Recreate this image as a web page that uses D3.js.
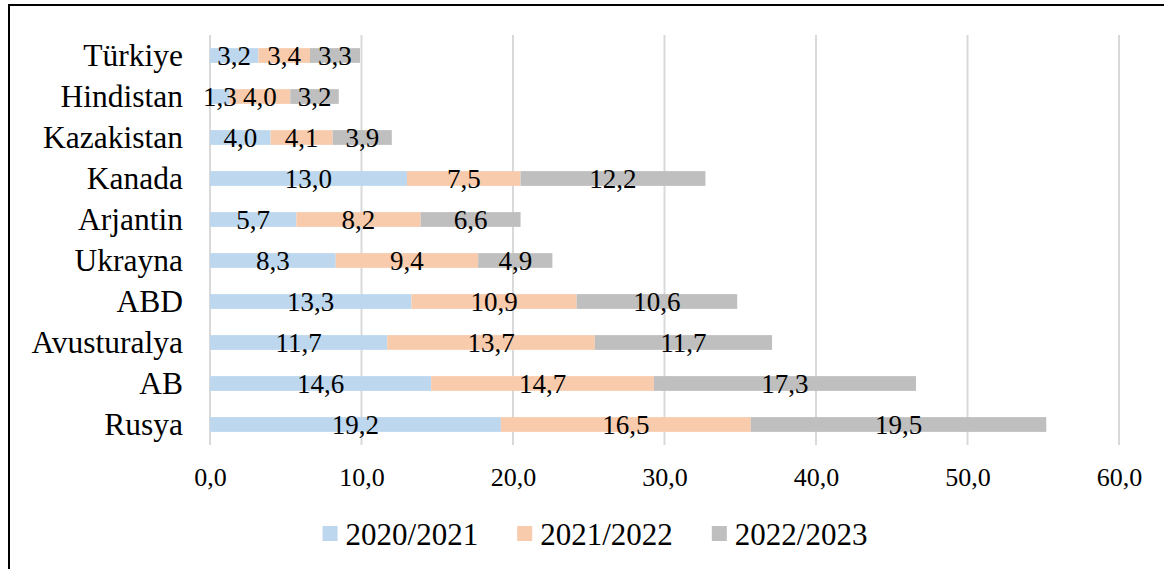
<!DOCTYPE html>
<html>
<head>
<meta charset="utf-8">
<script src="https://cdn.jsdelivr.net/npm/d3@7"></script>
<style>
  body { margin: 0; background: #fff; }
  svg { display: block; font-family: "Liberation Serif", "Times New Roman", serif; }
</style>
</head>
<body>
<svg id="chart" width="1164" height="569"></svg>
<script>
const categories = ["Türkiye", "Hindistan", "Kazakistan", "Kanada", "Arjantin", "Ukrayna", "ABD", "Avusturalya", "AB", "Rusya"];
const seriesNames = ["2020/2021", "2021/2022", "2022/2023"];
const values2020 = [3.2, 1.3, 4.0, 13.0, 5.7, 8.3, 13.3, 11.7, 14.6, 19.2];
const values2021 = [3.4, 4.0, 4.1, 7.5, 8.2, 9.4, 10.9, 13.7, 14.7, 16.5];
const values2022 = [3.3, 3.2, 3.9, 12.2, 6.6, 4.9, 10.6, 11.7, 17.3, 19.5];
const xTicks = [0, 10, 20, 30, 40, 50, 60];
const colors = ["#BDD7EE", "#F8CBAD", "#BFBFBF"];

const rows = categories.map((c, i) => ({
  name: c,
  "2020/2021": values2020[i],
  "2021/2022": values2021[i],
  "2022/2023": values2022[i],
}));

const svg = d3.select("#chart");
const margin = { top: 35, left: 210, right: 45, bottom: 124 };
const WIDTH = 1164;
const HEIGHT = 569;

// chart border (right and bottom edges fall outside the picture)
svg.append("rect")
  .attr("x", 9).attr("y", 5)
  .attr("width", 1180).attr("height", 600)
  .attr("fill", "none")
  .attr("stroke", "#000")
  .attr("stroke-width", 2);

const x = d3.scaleLinear().domain([0, 60]).range([margin.left, WIDTH - margin.right]);
const y = d3.scaleBand().domain(categories).range([margin.top, HEIGHT - margin.bottom]).paddingInner(0.64).paddingOuter(0.32);

const fmt = (v) => d3.format(".1f")(v).replace(".", ",");

// gridlines
svg.append("g")
  .selectAll("line")
  .data(xTicks)
  .join("line")
  .attr("x1", (d) => x(d)).attr("x2", (d) => x(d))
  .attr("y1", margin.top).attr("y2", HEIGHT - margin.bottom)
  .attr("stroke", "#D9D9D9")
  .attr("stroke-width", 2);

// x axis labels
const xAxis = svg.append("g")
  .attr("transform", `translate(0, ${HEIGHT - margin.bottom})`)
  .call(d3.axisBottom(x).tickValues(xTicks).tickFormat(fmt).tickSize(0).tickPadding(0));
xAxis.select(".domain").remove();
xAxis.selectAll("text")
  .attr("y", 41)
  .attr("dy", 0)
  .attr("fill", "#000")
  .style("font-size", "26px")
  .style("font-family", "Liberation Serif, Times New Roman, serif");

// category labels
const yAxis = svg.append("g")
  .attr("transform", `translate(183, 0)`)
  .call(d3.axisLeft(y).tickSize(0).tickPadding(0));
yAxis.select(".domain").remove();
yAxis.selectAll("text")
  .attr("x", 0)
  .attr("dy", "0.33em")
  .attr("fill", "#000")
  .style("font-size", "31.5px")
  .style("font-family", "Liberation Serif, Times New Roman, serif");

const stacked = d3.stack().keys(seriesNames)(rows);

const layers = svg.append("g")
  .selectAll("g")
  .data(stacked)
  .join("g")
  .attr("fill", (d, i) => colors[i]);

layers.selectAll("rect")
  .data((d) => d)
  .join("rect")
  .attr("x", (d) => x(d[0]))
  .attr("y", (d) => y(d.data.name))
  .attr("width", (d) => x(d[1]) - x(d[0]))
  .attr("height", y.bandwidth());

// data labels
const labels = svg.append("g");
stacked.forEach((layer) => {
  labels.selectAll(null)
    .data(layer)
    .join("text")
    .attr("x", (d) => (x(d[0]) + x(d[1])) / 2)
    .attr("y", (d) => y(d.data.name) + y.bandwidth() / 2)
    .attr("dy", "0.37em")
    .attr("text-anchor", "middle")
    .style("font-size", "27px")
    .text((d) => fmt(d[1] - d[0]));
});

// legend
const legend = svg.append("g").attr("transform", "translate(0, 545)");
const items = legend.selectAll("g")
  .data(seriesNames)
  .join("g");
items.append("rect")
  .attr("y", -19)
  .attr("width", 15).attr("height", 15)
  .attr("fill", (d, i) => colors[i]);
items.append("text")
  .attr("x", 23)
  .style("font-size", "31px")
  .text((d) => d);

let offset = 0;
const offsets = [];
items.each(function () {
  offsets.push(offset);
  const w = this.querySelector("text").getComputedTextLength();
  offset += 23 + w + 39;
});
const totalWidth = offset - 39;
const legendStart = 595 - totalWidth / 2;
items.attr("transform", (d, i) => `translate(${legendStart + offsets[i]}, 0)`);
</script>
</body>
</html>
